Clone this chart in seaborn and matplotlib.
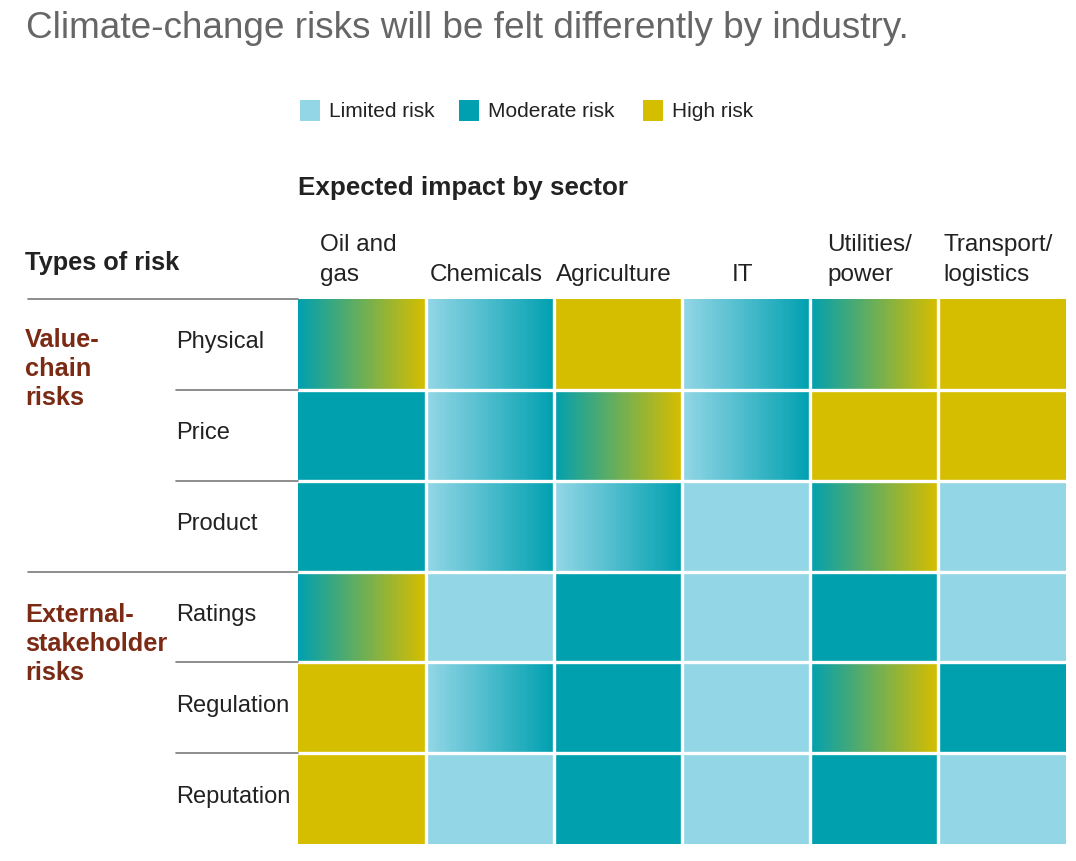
import numpy as np
import matplotlib
matplotlib.use("Agg")
import matplotlib.pyplot as plt
from matplotlib.colors import LinearSegmentedColormap
from matplotlib.patches import Rectangle
from matplotlib.lines import Line2D
import seaborn as sns

# Data: 0 = limited, 1 = moderate, 2 = high (start -> end for graded cells)
sectors = ["Oil and\ngas", "Chemicals", "Agriculture", "IT", "Utilities/\npower", "Transport/\nlogistics"]
risk_types = ["Physical", "Price", "Product", "Ratings", "Regulation", "Reputation"]
groups = ["Value-\nchain\nrisks", "External-\nstakeholder\nrisks"]
legend_labels = ["Limited risk", "Moderate risk", "High risk"]

risk_start = [
    [1, 0, 2, 0, 1, 2],
    [1, 0, 1, 0, 2, 2],
    [1, 0, 0, 0, 1, 0],
    [1, 0, 1, 0, 1, 0],
    [2, 0, 1, 0, 1, 1],
    [2, 0, 1, 0, 1, 0],
]
risk_end = [
    [2, 1, 2, 1, 2, 2],
    [1, 1, 2, 1, 2, 2],
    [1, 1, 1, 0, 2, 0],
    [2, 0, 1, 0, 1, 0],
    [2, 1, 1, 0, 2, 1],
    [2, 0, 1, 0, 1, 0],
]

colors = ["#93D6E6", "#00A0B0", "#D5BD00"]
cmap = LinearSegmentedColormap.from_list("risk", colors)

# each cell is split into thin strips so graded cells show a left-to-right blend
steps = 80
grid = np.array([
    np.concatenate([np.linspace(s, e, steps) for s, e in zip(rs, re)])
    for rs, re in zip(risk_start, risk_end)
])

W, H = 1076, 861
def fx(px):
    return px / W
def fy(py):
    return 1 - py / H

sns.set_theme(style="white")
plt.rcParams["font.family"] = ["Liberation Sans", "DejaVu Sans"]

fig = plt.figure(figsize=(W / 100, H / 100), dpi=100)
left, right, top, bottom = 298, 1066, 299, 844
ax = fig.add_axes([fx(left), fy(bottom), (right - left) / W, (bottom - top) / H])

sns.heatmap(grid, ax=ax, cmap=cmap, vmin=0, vmax=2, cbar=False,
            xticklabels=False, yticklabels=False)
for c in range(1, len(sectors)):
    ax.axvline(c * steps, color="white", lw=2.4)
for r in range(1, len(risk_types)):
    ax.axhline(r, color="white", lw=2.4)
for sp in ax.spines.values():
    sp.set_visible(False)

# titles
fig.text(fx(26), fy(38), "Climate-change risks will be felt differently by industry.",
         fontsize=26.6, color="#666666", va="baseline", ha="left")
fig.text(fx(298), fy(195), "Expected impact by sector", fontsize=18.7,
         fontweight="bold", color="#222222", va="baseline")
fig.text(fx(25), fy(270), "Types of risk", fontsize=18.3,
         fontweight="bold", color="#222222", va="baseline")

# legend
leg_x = [300, 459, 643]
for lx, col, lab in zip(leg_x, colors, legend_labels):
    fig.add_artist(Rectangle((fx(lx), fy(121)), 20 / W, 21 / H,
                             transform=fig.transFigure, color=col, lw=0))
    fig.text(fx(lx + 29), fy(117), lab, fontsize=15, color="#222222", va="baseline")

# column headers
col_w = (right - left) / len(sectors)
for i, s in enumerate(sectors):
    fig.text(fx(left + (i + 0.5) * col_w - 4), fy(286), s, fontsize=17.5,
             color="#222222", ha="center", va="bottom", multialignment="left",
             linespacing=1.45)

# row labels
row_h = (bottom - top) / len(risk_types)
for i, r in enumerate(risk_types):
    fig.text(fx(176), fy(top + (i + 0.5) * row_h + 4), r, fontsize=17,
             color="#222222", va="baseline")

# group labels (baseline of the last line)
for g, base in zip(groups, [405, 680]):
    fig.text(fx(25), fy(base), g, fontsize=18.3, fontweight="bold",
             color="#7B2A14", va="baseline", linespacing=1.27)

# separator lines
for i in range(len(risk_types)):
    y = top + i * row_h
    x0 = 28 if i % 3 == 0 else 176
    fig.add_artist(Line2D([fx(x0), fx(left)], [fy(y), fy(y)],
                          transform=fig.transFigure, color="#7A7A7A", lw=1.2))

fig.savefig("out.png", dpi=100, facecolor="white")
